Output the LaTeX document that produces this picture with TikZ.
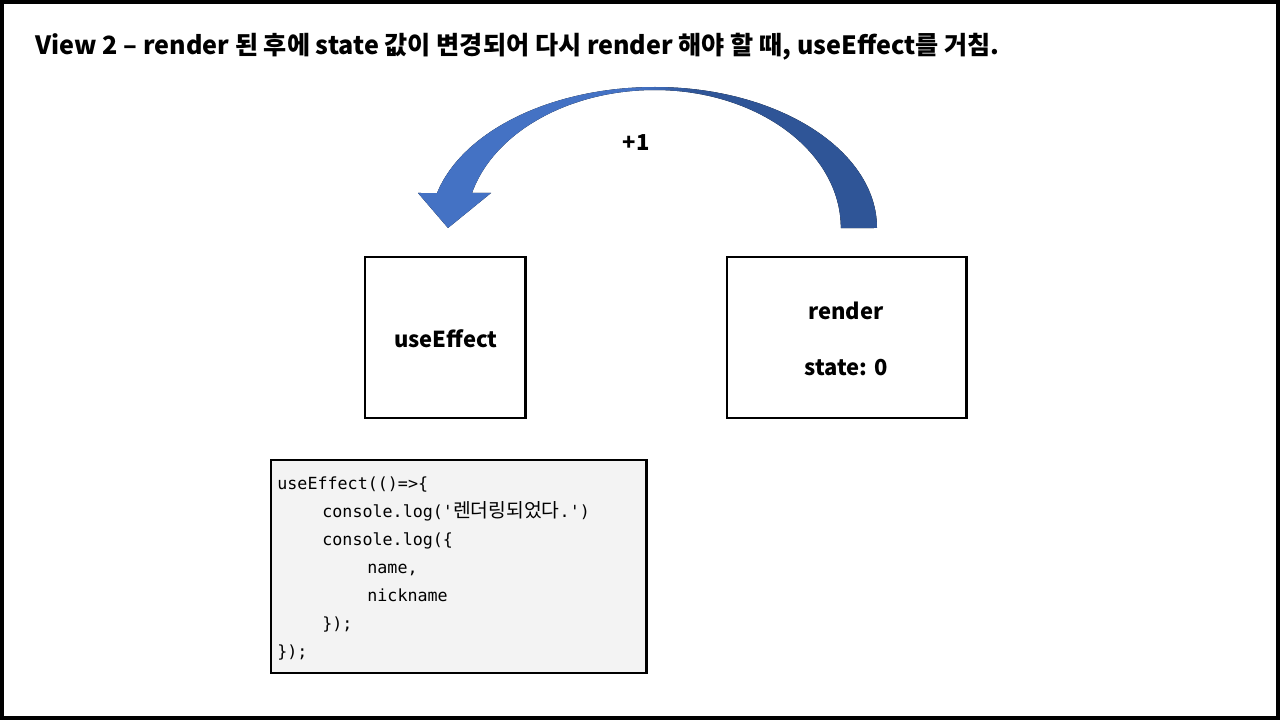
\documentclass[tikz,border=0pt]{standalone}
\usepackage{fontspec}
\setmainfont{Noto Sans CJK KR}
\setmonofont{DejaVu Sans Mono}
\newfontfamily\krfont{Noto Sans CJK KR}
\usetikzlibrary{positioning}
\definecolor{arrowlight}{HTML}{4472C4}
\definecolor{arrowdark}{HTML}{2F5597}
\definecolor{codebg}{HTML}{F3F3F3}
\pgfdeclarehorizontalshading{arcshade}{100bp}{color(0bp)=(arrowlight); color(49bp)=(arrowlight); color(55bp)=(arrowdark); color(100bp)=(arrowdark)}
\tikzset{
    statebox/.style={draw, line width=1.7pt, minimum height=32.2mm, inner sep=0pt},
    boxlabel/.style={font=\bfseries\fontsize{12.5}{14}\selectfont},
    codeline/.style={anchor=base west, inner sep=0pt, font=\ttfamily\fontsize{9.5}{11}\selectfont}
}

\begin{document}
\begin{tikzpicture}[x=0.2mm, y=-0.2mm]
        \useasboundingbox (0,0) rectangle (1280,720);
        \draw[line width=2.2pt] (2,2) rectangle (1278,718);
        \node[anchor=west, inner sep=0pt, font=\bfseries\fontsize{14.3}{16}\selectfont] (title) at (35,47) {View 2 – render 된 후에 state 값이 변경되어 다시 render 해야 할 때, useEffect를 거침.};
        % curved arrow
        \fill[shading=arcshade] (877,228) arc[start angle=0, end angle=-90, x radius=222, y radius=141]
            arc[start angle=-90, end angle=-165.63, x radius=225, y radius=141]
            -- (418,193) -- (448,228) -- (491,193) -- (472,193)
            arc[start angle=-165.3, end angle=-90, x radius=189, y radius=138]
            arc[start angle=-90, end angle=0, x radius=186, y radius=138] -- cycle;
        \node[boxlabel] (plus) at (636,143) {+1};
        \node[statebox, minimum width=32mm] (effect) at (445,337.5) {};
        \node[boxlabel] (effecttxt) at (446,339) {useEffect};
        \node[statebox, minimum width=47.8mm] (render) at (846.5,337.5) {};
        \node[boxlabel] (rendertxt) at (846,311) {render};
        \node[boxlabel] (statetxt) at (846,368) {state: 0};
        \node[draw, line width=1.7pt, fill=codebg, minimum width=75mm, minimum height=42.6mm, inner sep=0pt] (code) at (458.5,566.5) {};
        \foreach \i/\lvl/\txt in {0/0/{useEffect(()=>\{}, 1/1/{console.log('{\krfont\fontsize{11}{11}\selectfont 렌더링되었다}.')}, 2/1/{console.log(\{}, 3/2/{name,}, 4/2/{nickname}, 5/1/{\});}, 6/0/{\});}}{
            \node[codeline] (line\i) at (277+45*\lvl,489+28*\i) {\txt};
        }
\end{tikzpicture}
\end{document}
